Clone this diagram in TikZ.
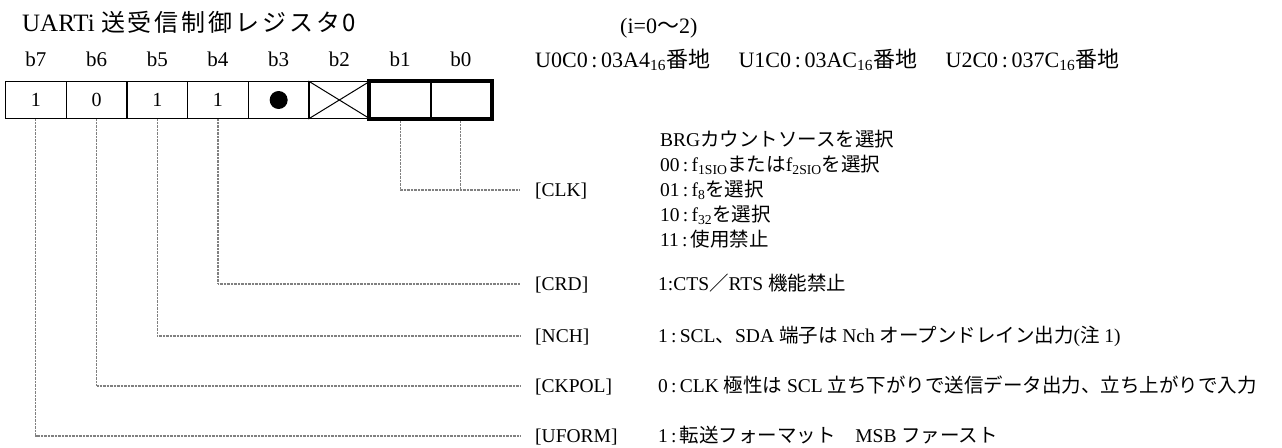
\documentclass[tikz,border=0pt]{standalone}
\usepackage{fontspec}
\setmainfont{Liberation Serif}
\newfontfamily\jpfont{Noto Sans CJK JP}
\newfontfamily\jptitle[LetterSpace=12]{Noto Sans CJK JP}
\newcommand\jpt[1]{{\jpfont #1}}
\newcommand\mysub[1]{\textsubscript{#1}}
\begin{document}
\begin{tikzpicture}[x=1pt,y=-1pt,
  cell/.style={draw, line width=1.2pt, minimum width=60.7pt, minimum height=36.8pt, inner sep=0pt, font=\fontsize{20}{24}\selectfont},
  blbl/.style={anchor=base, inner sep=0pt, font=\fontsize{21}{25}\selectfont},
  conn/.style={draw=black!50, line width=1.1pt, dash pattern=on 1pt off 0.4pt},
  fld/.style={anchor=base west, inner sep=0pt, font=\fontsize{19.5}{23}\selectfont},
  desc/.style={anchor=base west, inner sep=0pt, font=\fontsize{19.5}{23}\selectfont}]
\useasboundingbox (0,0) rectangle (1282,447);
% title
\node[anchor=base west, inner sep=0pt, font=\fontsize{25}{29}\selectfont] (title) at (22,31) {UARTi {\jptitle\fontsize{24}{29}\selectfont 送受信制御レジスタ0}};
\node[anchor=base west, inner sep=0pt, font=\fontsize{22}{26}\selectfont] (iidx) at (620,33) {(i=0\jpt{〜}2)};
\node[anchor=base west, inner sep=0pt, font=\fontsize{22}{26}\selectfont] (addr) at (535,67) {U0C0\,:\,03A4\mysub{16}\jpt{番地}\hspace{1.3em}U1C0\,:\,03AC\mysub{16}\jpt{番地}\hspace{1.3em}U2C0\,:\,037C\mysub{16}\jpt{番地}};
% bit labels
\node[blbl] (b7) at (35.85,66) {b7};
\node[blbl] (b6) at (96.55,66) {b6};
\node[blbl] (b5) at (157.25,66) {b5};
\node[blbl] (b4) at (217.95,66) {b4};
\node[blbl] (b3) at (278.65,66) {b3};
\node[blbl] (b2) at (339.35,66) {b2};
\node[blbl] (b1) at (400.05,66) {b1};
\node[blbl] (b0) at (460.75,66) {b0};
% cells
\node[cell] (c7) at (35.85,100) {1};
\node[cell] (c6) at (96.55,100) {0};
\node[cell] (c5) at (157.25,100) {1};
\node[cell] (c4) at (217.95,100) {1};
\node[cell] (c3) at (278.65,100) {};
\node[cell] (c2) at (339.35,100) {};
\node[cell] (c1) at (400.05,100) {};
\node[cell] (c0) at (460.75,100) {};
\fill (c3.center) circle (9);
\draw[line width=1pt] (c2.north west) -- (c2.south east) (c2.south west) -- (c2.north east);
\draw[line width=4pt] (c1.north west) rectangle (c0.south east);
\draw[line width=2pt] (c1.north east) -- (c1.south east);
% field labels
\node[fld] (lclk) at (535,196) {[CLK]};
\node[fld] (lcrd) at (535,290) {[CRD]};
\node[fld] (lnch) at (535,342) {[NCH]};
\node[fld] (lckpol) at (535,392) {[CKPOL]};
\node[fld] (luform) at (535,442) {[UFORM]};
% line ends
\coordinate (eclk) at (520,190);
\coordinate (ecrd) at (520,284);
\coordinate (ench) at (520,336);
\coordinate (eckpol) at (520,386);
\coordinate (euform) at (520,436);
% connectors
\draw[conn] (c1.south) ++(0,2) |- (eclk);
\draw[conn] (c0.south) ++(0,2) -- (c0.south |- eclk);
\draw[conn] (c4.south) |- (ecrd);
\draw[conn] (c5.south) |- (ench);
\draw[conn] (c6.south) |- (eckpol);
\draw[conn] (c7.south) |- (euform);
% descriptions
\node[desc] (d1) at (660,146) {BRG\jpt{カウントソースを選択}};
\node[desc] (d2) at (660,171) {00\,:\,f\mysub{1SIO}\jpt{または}f\mysub{2SIO}\jpt{を選択}};
\node[desc] (d3) at (660,196) {01\,:\,f\mysub{8}\jpt{を選択}};
\node[desc] (d4) at (660,221) {10\,:\,f\mysub{32}\jpt{を選択}};
\node[desc] (d5) at (660,246) {11\,:\,\jpt{使用禁止}};
\node[desc] (dcrd) at (658,290) {1:CTS\jpt{／}RTS \jpt{機能禁止}};
\node[desc] (dnch) at (658,342) {1\,:\,SCL\jpt{、}SDA \jpt{端子は} Nch \jpt{オープンドレイン出力}(\jpt{注} 1)};
\node[desc] (dckpol) at (658,392) {0\,:\,CLK \jpt{極性は} SCL \jpt{立ち下がりで送信データ出力、立ち上がりで入力}};
\node[desc] (duform) at (658,442) {1\,:\,\jpt{転送フォーマット}\quad MSB \jpt{ファースト}};
\end{tikzpicture}
\end{document}
